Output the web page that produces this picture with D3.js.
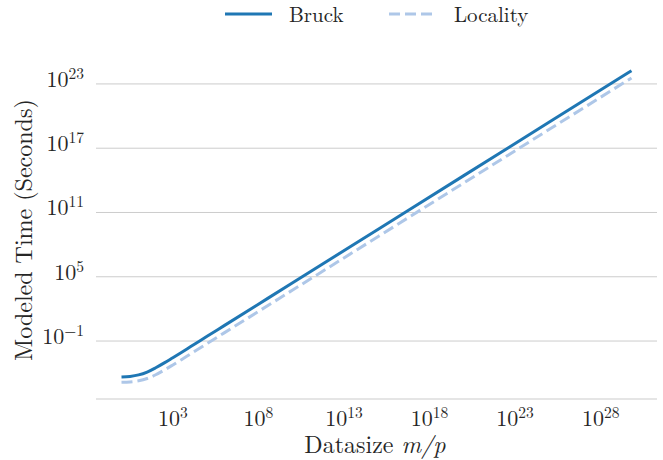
<!DOCTYPE html>
<html>
<head>
<meta charset="utf-8">
<script src="https://cdn.jsdelivr.net/npm/d3@7"></script>
<style>
  html, body { margin: 0; padding: 0; background: #ffffff; }
</style>
</head>
<body>
<svg id="chart" width="663" height="460" font-family="'Latin Modern Roman', 'CMU Serif', serif"></svg>
<script>
// ---- data ----
const datasize = [1, 3.16, 10, 31.6, 100, 316, 1e3, 3.16e3, 1e4, 1e5, 1e6, 1e8, 1e10, 1e15, 1e20, 1e25, 6.3e29];
const bruck    = [4.4e-5, 5.0e-5, 6.9e-5, 1.28e-4, 3.2e-4, 9.1e-4, 2.8e-3, 8.7e-3, 2.75e-2, 0.275, 2.75, 275, 2.75e4, 2.75e9, 2.75e14, 2.75e19, 1.73e24];
const locality = [1.41e-5, 1.53e-5, 1.93e-5, 3.17e-5, 7.1e-5, 1.955e-4, 5.9e-4, 1.83e-3, 5.8e-3, 5.76e-2, 0.576, 57.6, 5.76e3, 5.76e8, 5.76e13, 5.76e18, 3.63e23];
const seriesNames = ["Bruck", "Locality"];
const xTickExps = [3, 8, 13, 18, 23, 28];
const yTickExps = [-1, 5, 11, 17, 23];
const xLabel = "Datasize ";
const xLabelMath = "m/p";
const yLabel = "Modeled Time (Seconds)";

(function () {
const svg = d3.select("#chart");
const mLeft = 96, mRight = 657, mTop = 55, mBottom = 399;
const colors = ["#1f77b4", "#aec7e8"];
const textColor = "#262626";
const fs = 22, fsSup = 15.5, fsLabel = 24, fsLegend = 21;

const x = d3.scaleLog().domain([Math.pow(10, -1.49), Math.pow(10, 31.29)]).range([mLeft, mRight]);
const y = d3.scaleLog().domain([Math.pow(10, -6.41), Math.pow(10, 25.7)]).range([mBottom, mTop]);

// gridlines (y only)
svg.append("g").selectAll("line").data(yTickExps).join("line")
  .attr("x1", mLeft).attr("x2", mRight)
  .attr("y1", d => y(Math.pow(10, d))).attr("y2", d => y(Math.pow(10, d)))
  .attr("stroke", "#cccccc").attr("stroke-width", 1);

// bottom spine
svg.append("line").attr("x1", mLeft).attr("x2", mRight).attr("y1", mBottom).attr("y2", mBottom)
  .attr("stroke", "#cccccc").attr("stroke-width", 1.2);

const sup = s => String(s).replace("-", "\u2212");

// y tick labels
const yt = svg.append("g").selectAll("text").data(yTickExps).join("text")
  .attr("x", 84).attr("y", d => y(Math.pow(10, d)) + 3)
  .attr("text-anchor", "end").attr("font-size", fs).attr("fill", textColor);
yt.append("tspan").text("10");
yt.append("tspan").attr("dy", -8).attr("font-size", fsSup).text(d => sup(d));

// x tick labels
const xt = svg.append("g").selectAll("text").data(xTickExps).join("text")
  .attr("x", d => x(Math.pow(10, d))).attr("y", 426)
  .attr("text-anchor", "middle").attr("font-size", fs).attr("fill", textColor);
xt.append("tspan").text("10");
xt.append("tspan").attr("dy", -8).attr("font-size", fsSup).text(d => sup(d));

// axis labels
const xl = svg.append("text").attr("x", 375).attr("y", 453)
  .attr("text-anchor", "middle").attr("font-size", fsLabel).attr("fill", textColor);
xl.append("tspan").text(xLabel);
xl.append("tspan").attr("font-style", "italic").text(xLabelMath);

svg.append("text").attr("transform", `translate(32, 230) rotate(-90)`)
  .attr("text-anchor", "middle").attr("font-size", fsLabel).attr("fill", textColor).text(yLabel);

// lines
const line = d3.line().x(d => x(d[0])).y(d => y(d[1])).curve(d3.curveMonotoneX);
[bruck, locality].forEach((vals, i) => {
  svg.append("path")
    .datum(datasize.map((d, j) => [d, vals[j]]))
    .attr("fill", "none").attr("stroke", colors[i]).attr("stroke-width", 3)
    .attr("stroke-dasharray", i === 1 ? "11,5" : null)
    .attr("d", line);
});

// legend
const legendItems = [
  { x1: 225, x2: 272, tx: 289 },
  { x1: 389, x2: 433, tx: 454 }
];
seriesNames.forEach((name, i) => {
  const it = legendItems[i];
  svg.append("line").attr("x1", it.x1).attr("x2", it.x2).attr("y1", 14).attr("y2", 14)
    .attr("stroke", colors[i]).attr("stroke-width", 3)
    .attr("stroke-dasharray", i === 1 ? "11,5" : null);
  svg.append("text").attr("x", it.tx).attr("y", 22).attr("font-size", fsLegend).attr("fill", textColor).text(name);
});
})();
</script>
</body>
</html>
